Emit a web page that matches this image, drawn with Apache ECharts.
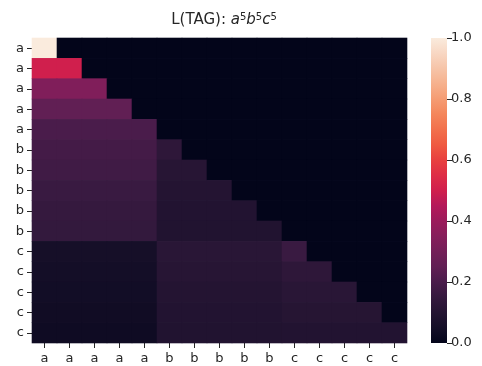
<!DOCTYPE html>
<html>
<head>
<meta charset="utf-8">
<script src="https://cdn.jsdelivr.net/npm/echarts@6/dist/echarts.min.js"></script>
<style>
  html, body { margin: 0; padding: 0; background: #fff; }
  #chart { width: 482px; height: 366px; }
</style>
</head>
<body>
<div id="chart"></div>
<script>
// token labels along both axes
var tokens = ['a', 'a', 'a', 'a', 'a', 'b', 'b', 'b', 'b', 'b', 'c', 'c', 'c', 'c', 'c'];

// lower-triangular attention weights, one row per query token (rest is 0)
var weights = [
  [1.0],
  [0.5, 0.5],
  [0.333, 0.333, 0.333],
  [0.25, 0.25, 0.25, 0.25],
  [0.2, 0.2, 0.2, 0.2, 0.2],
  [0.185, 0.185, 0.185, 0.185, 0.185, 0.13],
  [0.175, 0.175, 0.175, 0.175, 0.175, 0.11, 0.11],
  [0.16, 0.16, 0.16, 0.16, 0.16, 0.1, 0.1, 0.1],
  [0.15, 0.15, 0.15, 0.15, 0.15, 0.095, 0.095, 0.095, 0.095],
  [0.145, 0.145, 0.145, 0.145, 0.145, 0.09, 0.09, 0.09, 0.09, 0.09],
  [0.055, 0.055, 0.055, 0.055, 0.055, 0.115, 0.115, 0.115, 0.115, 0.115, 0.16],
  [0.05, 0.05, 0.05, 0.05, 0.05, 0.11, 0.11, 0.11, 0.11, 0.11, 0.13, 0.13],
  [0.045, 0.045, 0.045, 0.045, 0.045, 0.1, 0.1, 0.1, 0.1, 0.1, 0.115, 0.115, 0.115],
  [0.04, 0.04, 0.04, 0.04, 0.04, 0.095, 0.095, 0.095, 0.095, 0.095, 0.105, 0.105, 0.105, 0.105],
  [0.035, 0.035, 0.035, 0.035, 0.035, 0.09, 0.09, 0.09, 0.09, 0.09, 0.095, 0.095, 0.095, 0.095, 0.095]
];

// colorbar ticks
var barTicks = [0, 0.2, 0.4, 0.6, 0.8, 1.0];

// seaborn "rocket", sampled every 0.05 from 0 to 1
var rocket = [
  '#03051a', '#140e27', '#241432', '#35193e', '#4a1c4b', '#611f54',
  '#731f58', '#861e5b', '#9b1b5b', '#b4195a', '#d01f4d', '#de2d46',
  '#e8403f', '#ef5a41', '#f2704c', '#f4865b', '#f59c73', '#f6b18d',
  '#f6c4a8', '#f8d7c3', '#faebdd'
];

var cells = [];
for (var r = 0; r < tokens.length; r++) {
  for (var c = 0; c < tokens.length; c++) {
    var v = c < weights[r].length ? weights[r][c] : 0;
    cells.push([c, r, v]);
  }
}

var stops = rocket.map(function (col, i) {
  return { offset: 1 - i / (rocket.length - 1), color: col };
});

var labelColor = '#262626';
var font = 'DejaVu Sans';

var chart = echarts.init(document.getElementById('chart'));
chart.setOption({
  backgroundColor: '#fff',
  animation: false,
  textStyle: { fontFamily: font },
  title: {
    text: 'L(TAG): {i|a}{s|5}{i|b}{s|5}{i|c}{s|5}',
    left: 219,
    textAlign: 'center',
    top: 7,
    textStyle: {
      fontFamily: font, fontSize: 15, fontWeight: 'normal', color: labelColor,
      rich: {
        i: { fontFamily: font, fontSize: 15, fontStyle: 'italic', color: labelColor },
        s: { fontFamily: font, fontSize: 10, color: labelColor, verticalAlign: 'top', padding: [0, 0, 7, 0] }
      }
    }
  },
  grid: [
    { left: 32, top: 38, width: 375, height: 305 },
    { left: 431, top: 38, width: 16, height: 305 }
  ],
  xAxis: [
    {
      type: 'category', gridIndex: 0, data: tokens,
      axisLine: { show: false },
      axisTick: { show: true, alignWithLabel: true, length: 5, lineStyle: { color: labelColor } },
      axisLabel: { color: labelColor, fontSize: 13, margin: 9, fontFamily: font },
      splitArea: { show: false }
    },
    { type: 'category', gridIndex: 1, data: [''], show: false }
  ],
  yAxis: [
    {
      type: 'category', gridIndex: 0, data: tokens, inverse: true,
      axisLine: { show: false },
      axisTick: { show: true, alignWithLabel: true, length: 5, lineStyle: { color: labelColor } },
      axisLabel: { color: labelColor, fontSize: 13, margin: 8, fontFamily: font }
    },
    {
      type: 'value', gridIndex: 1, position: 'right', min: 0, max: 1, interval: 0.2,
      axisLine: { show: false },
      splitLine: { show: false },
      axisTick: { show: true, length: 5, lineStyle: { color: labelColor } },
      axisLabel: {
        color: labelColor, fontSize: 13, margin: 4, fontFamily: font,
        formatter: function (v) { return v.toFixed(1); },
        customValues: barTicks
      }
    }
  ],
  visualMap: {
    show: false, type: 'continuous', seriesIndex: 0, min: 0, max: 1,
    inRange: { color: rocket }
  },
  series: [
    {
      type: 'custom', xAxisIndex: 0, yAxisIndex: 0, data: cells,
      encode: { x: 0, y: 1 },
      silent: true,
      renderItem: function (params, api) {
        var p = api.coord([api.value(0), api.value(1)]);
        var s = api.size([1, 1]);
        return {
          type: 'rect',
          shape: { x: p[0] - s[0] / 2 - 0.3, y: p[1] - s[1] / 2 - 0.3, width: s[0] + 0.6, height: s[1] + 0.6 },
          style: { fill: api.visual('color') }
        };
      }
    },
    {
      type: 'bar', xAxisIndex: 1, yAxisIndex: 1, data: [1], barWidth: '100%',
      itemStyle: { color: new echarts.graphic.LinearGradient(0, 0, 0, 1, stops) },
      silent: true
    }
  ]
});
</script>
</body>
</html>
